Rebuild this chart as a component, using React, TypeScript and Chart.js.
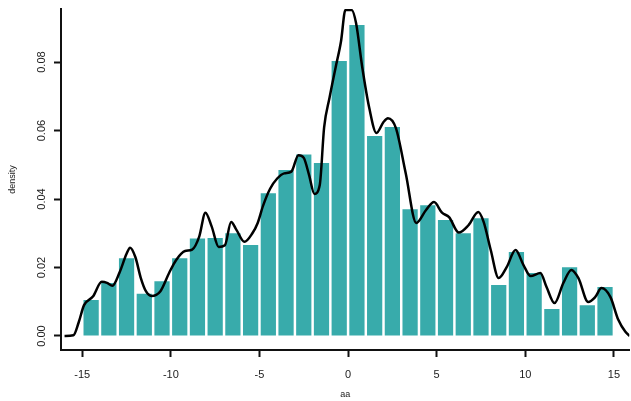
import React, { useEffect, useRef } from "react";
import { Chart, registerables } from "chart.js";

Chart.register(...registerables);

// Histogram bins (left edges, width 1) and their densities
const binStarts = [
  -15, -14, -13, -12, -11, -10, -9, -8, -7, -6,
  -5, -4, -3, -2, -1, 0, 1, 2, 3, 4,
  5, 6, 7, 8, 9, 10, 11, 12, 13, 14,
];
const densities = [
  0.0105, 0.0155, 0.0227, 0.0123, 0.016, 0.0227, 0.0285, 0.0286, 0.030, 0.0266,
  0.0417, 0.0485, 0.053, 0.0505, 0.0803, 0.0908, 0.0584, 0.061, 0.037, 0.0382,
  0.0339, 0.030, 0.0344, 0.0149, 0.0245, 0.0184, 0.0079, 0.0201, 0.009, 0.0143,
];

// Kernel density curve
const curveX = [
  -16.0, -15.5, -15.2, -14.9, -14.4, -13.9, -13.6, -13.3, -12.9, -12.5,
  -12.3, -12.0, -11.7, -11.4, -11.1, -10.6, -10.1, -9.7, -9.2, -8.8,
  -8.4, -8.05, -7.7, -7.3, -6.95, -6.6, -6.3, -5.85, -5.4, -5.1,
  -4.8, -4.4, -4.0, -3.6, -3.2, -2.8, -2.5, -2.2, -1.9, -1.6,
  -1.35, -1.05, -0.7, -0.4, -0.15, 0.2, 0.45, 0.8, 1.2, 1.6,
  2.0, 2.25, 2.7, 3.25, 3.85, 4.4, 4.85, 5.3, 5.7, 6.25,
  6.8, 7.35, 7.65, 8.05, 8.5, 8.95, 9.45, 9.9, 10.3, 10.85,
  11.2, 11.65, 12.15, 12.6, 13.0, 13.55, 13.95, 14.3, 14.8, 15.25,
  15.65, 15.9,
];
const curveY = [
  0.0, 0.0002, 0.004, 0.009, 0.0115, 0.0158, 0.0155, 0.0147, 0.0185, 0.024,
  0.0258, 0.023, 0.017, 0.013, 0.0117, 0.013, 0.0184, 0.0222, 0.0248, 0.0252,
  0.029, 0.036, 0.032, 0.026, 0.0265, 0.0333, 0.031, 0.0275, 0.030, 0.033,
  0.038, 0.043, 0.046, 0.0475, 0.048, 0.0528, 0.052, 0.047, 0.0415, 0.044,
  0.061, 0.0695, 0.0785, 0.086, 0.0952, 0.0952, 0.0914, 0.0785, 0.0665, 0.0593,
  0.0625, 0.0636, 0.0607, 0.0476, 0.033, 0.0368, 0.0391, 0.036, 0.0347, 0.0302,
  0.0324, 0.0362, 0.0333, 0.0251, 0.0169, 0.0201, 0.0251, 0.0207, 0.0175, 0.0184,
  0.0143, 0.0096, 0.0155, 0.0193, 0.0169, 0.0099, 0.0114, 0.014, 0.0114, 0.0047,
  0.0012, 0.0,
];

const xTicks = [-15, -10, -5, 0, 5, 10, 15];
const yTicks = [0, 0.02, 0.04, 0.06, 0.08];
const xTitle = "aa";
const yTitle = "density";

const FONT = '"Liberation Sans", Arial, Helvetica, sans-serif';
const TEXT = "#222222";
const AXIS = "#111111";

export default function App() {
  const ref = useRef<HTMLCanvasElement>(null);

  useEffect(() => {
    document.body.style.margin = "0";
    const canvas = ref.current;
    if (!canvas) return;
    const chart = new Chart(canvas, {
      type: "bar",
      data: {
        datasets: [
          {
            type: "line",
            data: curveX.map((x, i) => ({ x, y: curveY[i] })),
            borderColor: "#000000",
            borderWidth: 2.5,
            pointRadius: 0,
            cubicInterpolationMode: "monotone",
            fill: false,
            order: 0,
          } as any,
          {
            type: "bar",
            data: binStarts.map((s, i) => ({ x: s + 0.5, y: densities[i] })),
            backgroundColor: "#38abab",
            borderWidth: 0,
            barPercentage: 0.86,
            categoryPercentage: 1,
            order: 1,
          } as any,
        ],
      },
      options: {
        responsive: false,
        animation: false,
        devicePixelRatio: 1,
        layout: { padding: { top: 9, left: 0, right: 0, bottom: 0 } },
        plugins: {
          legend: { display: false },
          tooltip: { enabled: false },
        },
        scales: {
          x: {
            type: "linear",
            min: -16.2,
            max: 15.87,
            offset: false,
            afterBuildTicks: (s: any) => {
              s.ticks = xTicks.map((v) => ({ value: v }));
            },
            afterFit: (s: any) => {
              s.height = 51;
            },
            grid: {
              display: true,
              offset: false,
              drawOnChartArea: false,
              drawTicks: true,
              tickLength: 7,
              tickWidth: 2,
              tickColor: AXIS,
            },
            border: { display: true, color: AXIS, width: 2 },
            ticks: {
              autoSkip: false,
              maxRotation: 0,
              minRotation: 0,
              padding: 11,
              color: TEXT,
              font: { family: FONT, size: 11 },
              callback: (v: any) => String(v),
            },
            title: {
              display: true,
              text: xTitle,
              color: TEXT,
              font: { family: FONT, size: 9 },
              padding: { top: 0, bottom: 1 },
            },
          },
          y: {
            type: "linear",
            min: -0.0041,
            max: 0.0955,
            afterBuildTicks: (s: any) => {
              s.ticks = yTicks.map((v) => ({ value: v }));
            },
            afterFit: (s: any) => {
              s.width = 61;
            },
            grid: {
              display: true,
              drawOnChartArea: false,
              drawTicks: true,
              tickLength: 7,
              tickWidth: 2,
              tickColor: AXIS,
            },
            border: { display: true, color: AXIS, width: 2 },
            ticks: {
              minRotation: 90,
              maxRotation: 90,
              crossAlign: "center",
              padding: 1,
              color: TEXT,
              font: { family: FONT, size: 11 },
              callback: (v: any) => Number(v).toFixed(2),
            },
            title: {
              display: true,
              text: yTitle,
              color: TEXT,
              font: { family: FONT, size: 9 },
              padding: { top: 7, bottom: 0 },
            },
          },
        },
      } as any,
    });
    return () => chart.destroy();
  }, []);

  return (
    <div style={{ position: "absolute", left: 0, top: 0, width: 631, height: 401 }}>
      <canvas ref={ref} width={631} height={401} style={{ width: 631, height: 401 }} />
    </div>
  );
}
